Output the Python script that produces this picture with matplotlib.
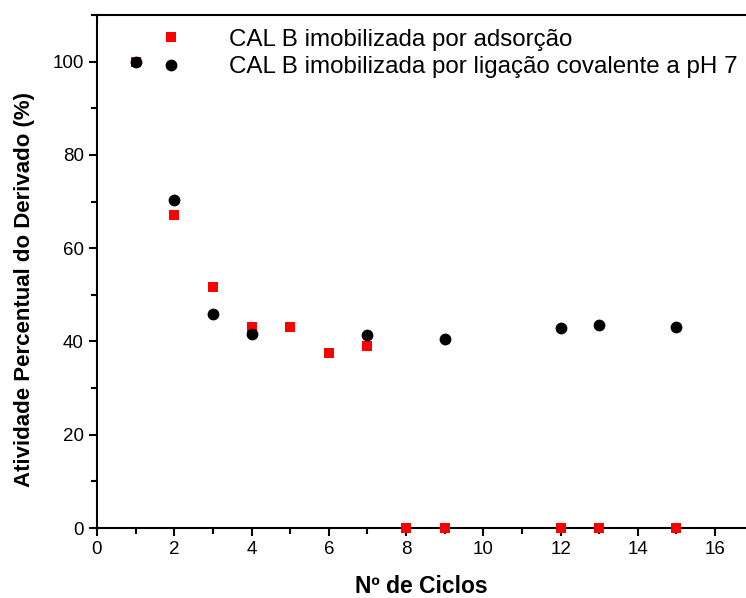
import matplotlib
matplotlib.use("Agg")
import matplotlib.pyplot as plt
from matplotlib.ticker import MultipleLocator

plt.rcParams["font.family"] = ["Liberation Sans", "DejaVu Sans"]

# data
ciclos_ads = [1, 2, 3, 4, 5, 6, 7, 8, 9, 12, 13, 15]
atividade_ads = [100, 67.1, 51.6, 43.2, 43.0, 37.6, 39.1, 0, 0, 0, 0, 0]

ciclos_cov = [1, 2, 3, 4, 7, 9, 12, 13, 15]
atividade_cov = [100, 70.3, 45.8, 41.7, 41.3, 40.6, 42.8, 43.6, 43.2]

label_ads = "CAL B imobilizada por adsorção"
label_cov = "CAL B imobilizada por ligação covalente a pH 7"

fig = plt.figure(figsize=(7.46, 5.98), dpi=100)
ax = fig.add_axes([0.130, 0.117, 0.870, 0.858])

ax.plot(ciclos_ads, atividade_ads, "s", color="#ff0000", markersize=7.5,
        markeredgewidth=0, label=label_ads, clip_on=False, zorder=3)
ax.plot(ciclos_cov, atividade_cov, "o", color="black", markersize=8.5,
        markeredgewidth=0, label=label_cov, clip_on=False, zorder=4)

ax.set_xlim(0, 16.8)
ax.set_ylim(0, 110)
ax.xaxis.set_major_locator(MultipleLocator(2))
ax.xaxis.set_minor_locator(MultipleLocator(1))
ax.yaxis.set_major_locator(MultipleLocator(20))
ax.yaxis.set_minor_locator(MultipleLocator(10))
ax.tick_params(which="major", direction="out", length=6, width=1.5,
               labelsize=13.5)
ax.tick_params(which="minor", direction="out", length=4, width=1.5)

for s in ["left", "bottom", "top"]:
    ax.spines[s].set_linewidth(1.5)
ax.spines["right"].set_visible(False)

ax.set_xlabel("Nº de Ciclos", fontsize=16.5, fontweight="bold", labelpad=12)
ax.set_ylabel("Atividade Percentual do Derivado (%)", fontsize=16,
              fontweight="bold", labelpad=4)
ax.yaxis.set_label_coords(-0.095, 0.464)

ax.legend(loc="upper left", bbox_to_anchor=(0.184, 0.968),
          bbox_transform=fig.transFigure, frameon=False, fontsize=17.4,
          handletextpad=1.4, labelspacing=0.22, borderaxespad=0)

fig.savefig("out.png", dpi=100)
